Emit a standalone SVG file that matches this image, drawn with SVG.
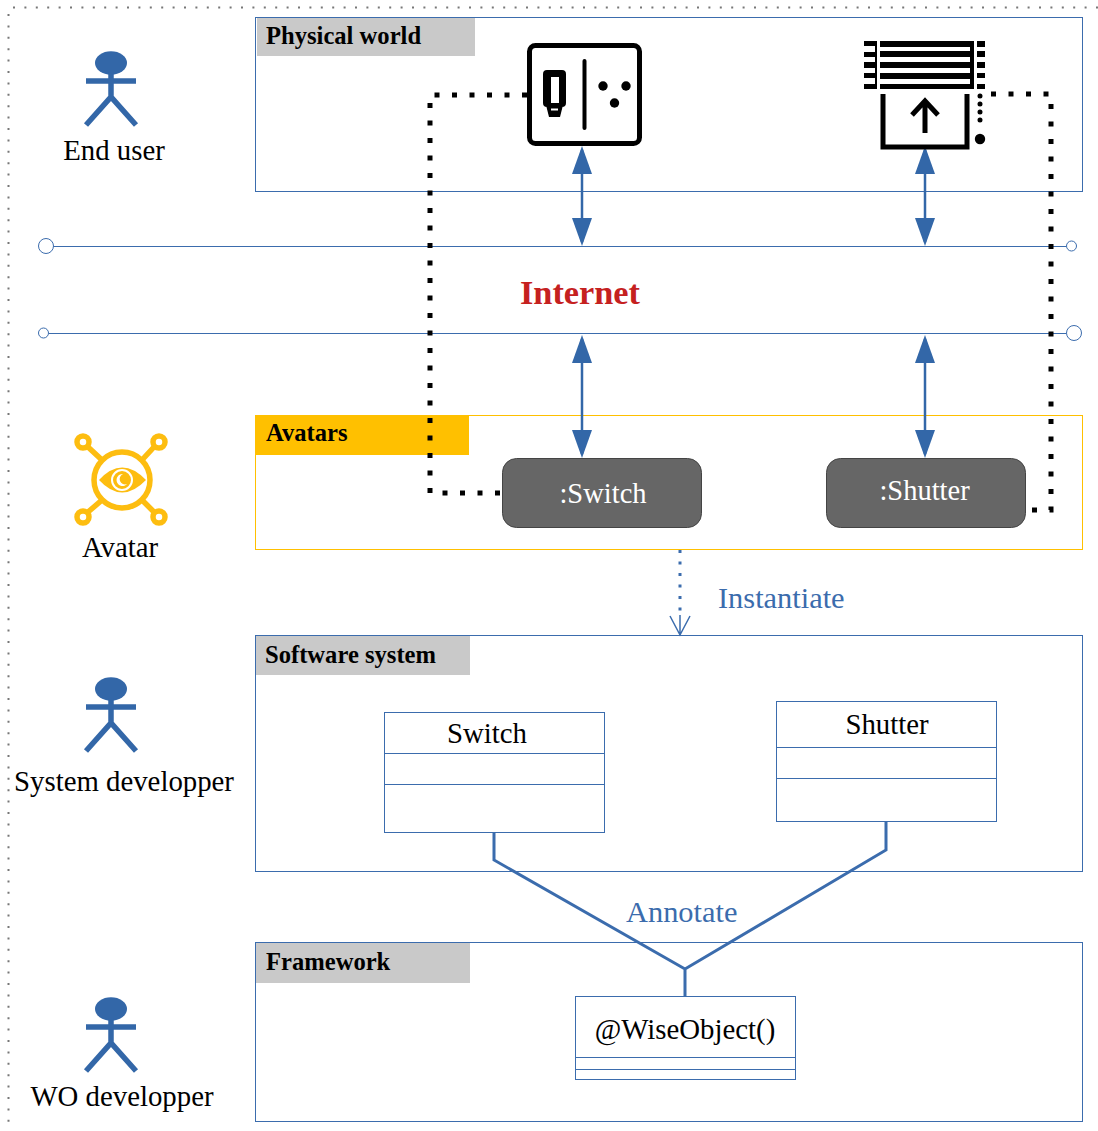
<svg xmlns="http://www.w3.org/2000/svg" width="1098" height="1131" viewBox="0 0 1098 1131">
<style>
text{font-family:"Liberation Serif","Times New Roman",serif;fill:#000}
.box{fill:none;stroke:#3b6cad;stroke-width:1}
.lbl{font-size:28.800px}
.head{font-size:24.600px;font-weight:bold}
.blue{font-size:30.400px}
.wht{font-size:28.500px}
.cls{fill:#fff;stroke:#3b6cad;stroke-width:1}
.ln{fill:none;stroke:#3b6cad;stroke-width:1}
.bus{fill:none;stroke:#3b6cad;stroke-width:3}
.dot{fill:none;stroke:#000;stroke-width:5;stroke-dasharray:5 12.500}
.arr{fill:none;stroke:#3367a8;stroke-width:2.500;marker-start:url(#a);marker-end:url(#a)}
.av{fill:none;stroke:#fdbd10;stroke-width:5.500}
.avbox{fill:#666;stroke:#444;stroke-width:1}
</style>
<defs>
<marker id="a" markerUnits="userSpaceOnUse" markerWidth="28" markerHeight="22" refX="24" refY="11" orient="auto-start-reverse"><path d="M0 1L28 11L0 21Z" fill="#3367a8"/></marker>
<g id="actor"><ellipse cx="0" cy="11" rx="16" ry="11.700" fill="#3367a8"/><path d="M-25 29H25M0 20V45M-25 73L0 45L25 73" fill="none" stroke="#3367a8" stroke-width="5.500"/></g>
</defs>
<g id="border"><path d="M13 7.500H1098M8.500 14V1131" fill="none" stroke="#777" stroke-width="2" stroke-dasharray="2 9.400"/></g>
<g id="physical-world"><rect class="box" x="255.500" y="17.500" width="827" height="174"/><rect x="257" y="18" width="218" height="38" fill="#c9c9c9"/><text class="head" x="266" y="44">Physical world</text></g>
<g id="avatars"><rect x="255.500" y="415.500" width="827" height="134" fill="none" stroke="#ffc000"/><rect x="255" y="415" width="214" height="40" fill="#ffc000"/><text class="head" x="266" y="441">Avatars</text></g>
<g id="software-system"><rect class="box" x="255.500" y="635.500" width="827" height="236"/><rect x="256" y="636" width="214" height="39" fill="#c9c9c9"/><text class="head" x="265" y="663">Software system</text></g>
<g id="framework"><rect class="box" x="255.500" y="942.500" width="827" height="179"/><rect x="256" y="943" width="214" height="40" fill="#c9c9c9"/><text class="head" x="266" y="970">Framework</text></g>
<g id="connectors">
<path class="ln" d="M53 246.500H1066M49 333.500H1066"/>
<circle cx="46" cy="246" r="7.500" fill="#fff" stroke="#3b6cad"/><circle cx="1071.500" cy="246" r="5" fill="#fff" stroke="#3b6cad"/><circle cx="43.500" cy="333" r="5" fill="#fff" stroke="#3b6cad"/><circle cx="1074" cy="333" r="7.500" fill="#fff" stroke="#3b6cad"/>
<path class="dot" d="M527 95H430V493H503"/>
<path class="dot" d="M991 94H1051V510H1027"/>
<path d="M980 96V128" fill="none" stroke="#000" stroke-width="5" stroke-linecap="round" stroke-dasharray="0 8"/><circle cx="980" cy="139" r="5.200"/>
<path class="arr" d="M582 150V242"/><path class="arr" d="M925 150V242"/><path class="arr" d="M582 339V454"/><path class="arr" d="M925 339V454"/>
<path d="M680 550V612" fill="none" stroke="#3b6cad" stroke-width="3" stroke-dasharray="3 8.500"/><path d="M670 616L680 635L690 616M680 615V635" fill="none" stroke="#3b6cad" stroke-width="1.500"/>
<path class="bus" d="M494 832V860L685 969M886 822V850L685 969M685 969V996"/>
</g>
<g id="socket"><rect x="529.500" y="45.500" width="110" height="98" rx="6" fill="none" stroke="#000" stroke-width="5"/><path d="M584.500 61V128" fill="none" stroke="#000" stroke-width="4" stroke-linecap="round"/><path d="M547 70H562Q566 70 566 74V103Q566 107 562 107H547Q543 107 543 103V74Q543 70 547 70ZM551 77V103H559V77Z" fill-rule="evenodd"/><path d="M546.500 107H562.500L560 117H549ZM551 108.500V110.500H558V108.500Z" fill-rule="evenodd"/><circle cx="603" cy="86" r="4.700"/><circle cx="626" cy="86" r="4.700"/><circle cx="614.500" cy="103" r="4.700"/></g>
<g id="shutter"><path d="M864 41H877V89H864V84H875V78H864V73H875V68H864V62H875V57H864V52H875V46H864Z"/><path d="M880 41H974V89H880V84H970V79H880V73H970V68H880V62H970V57H880V51H970V47H880Z"/><path d="M977 41H985V47H977ZM977 51H985V57H977ZM977 62H985V68H977ZM977 73H985V78H977ZM977 84H985V89H977Z"/><path d="M883 94V147H967V94" fill="none" stroke="#000" stroke-width="5"/><path d="M925 133V101M912 115L925 101L938 115" fill="none" stroke="#000" stroke-width="5"/></g>
<g id="internet"><text x="520" y="304" font-size="34.300" font-weight="bold" style="fill:#c5211f">Internet</text></g>
<g id="switch-avatar"><rect class="avbox" x="502.500" y="458.500" width="199" height="69" rx="14"/><text class="wht" x="603" y="503" text-anchor="middle" style="fill:#fff">:Switch</text></g>
<g id="shutter-avatar"><rect class="avbox" x="826.500" y="458.500" width="199" height="69" rx="14"/><text class="wht" x="924.500" y="500" text-anchor="middle" style="fill:#fff">:Shutter</text></g>
<g id="instantiate"><text class="blue" x="718" y="608" style="fill:#3b6cad">Instantiate</text></g>
<g id="annotate"><text class="blue" x="626" y="922" style="fill:#3b6cad">Annotate</text></g>
<g id="switch-class"><rect class="cls" x="384.500" y="712.500" width="220" height="120"/><path class="ln" d="M384 753.500H604M384 784.500H604"/><text class="lbl" x="487" y="743" text-anchor="middle">Switch</text></g>
<g id="shutter-class"><rect class="cls" x="776.500" y="701.500" width="220" height="120"/><path class="ln" d="M776 747.500H996M776 778.500H996"/><text class="lbl" x="887" y="734" text-anchor="middle">Shutter</text></g>
<g id="wiseobject-class"><rect class="cls" x="575.500" y="996.500" width="220" height="83"/><path class="ln" d="M575 1057.500H795M575 1069.500H795"/><text class="lbl" x="685" y="1039" text-anchor="middle">@WiseObject()</text></g>
<g id="end-user"><use href="#actor" x="111" y="52"/><text class="lbl" x="114" y="160" text-anchor="middle">End user</text></g>
<g id="avatar"><circle class="av" cx="122" cy="480" r="28" stroke-width="6"/><path d="M99 480Q122 455 146 480Q122 505 99 480Z" fill="#fdbd10"/><circle cx="122" cy="480" r="10" fill="#fdbd10" stroke="#fff" stroke-width="2"/><path d="M123 474a6 6 0 1 0 4 10a5 5 0 0 1 -4 -10Z" fill="#fff"/><circle class="av" cx="83" cy="442" r="6"/><circle class="av" cx="159" cy="442" r="6"/><circle class="av" cx="83" cy="517" r="6"/><circle class="av" cx="159" cy="517" r="6"/><path class="av" d="M88 447L102 460M154 447L142 460M88 512L102 500M154 512L142 500"/><text class="lbl" x="120" y="557" text-anchor="middle">Avatar</text></g>
<g id="system-developper"><use href="#actor" x="111" y="678"/><text class="lbl" x="124" y="791" text-anchor="middle">System developper</text></g>
<g id="wo-developper"><use href="#actor" x="111" y="998"/><text class="lbl" x="122" y="1106" text-anchor="middle">WO developper</text></g>
</svg>
